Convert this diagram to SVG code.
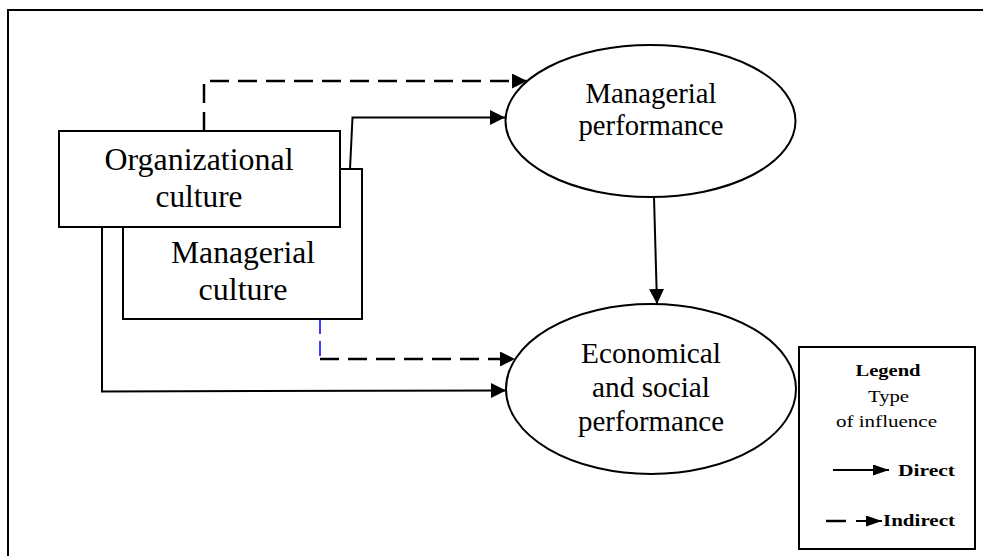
<svg xmlns="http://www.w3.org/2000/svg" width="983" height="556" viewBox="0 0 983 556">
  <style>
    .frame { fill: none; stroke: #000; stroke-width: 2; }
    .box { fill: #fff; stroke: #000; stroke-width: 2; }
    .oval { fill: #fff; stroke: #000; stroke-width: 2; }
    .lbl { font-family: "Liberation Serif", "Times New Roman", serif; fill: #000; text-anchor: middle; }
    .big { font-size: 31px; }
    .mid { font-size: 29px; }
    .small { font-size: 16px; }
    .bold { font-weight: bold; }
    .solid { fill: none; stroke: #000; stroke-width: 2; }
    .dash { fill: none; stroke: #000; stroke-width: 2.5; stroke-dasharray: 19 9; }
    .dashblue { fill: none; stroke: #0000ff; stroke-width: 1.5; stroke-dasharray: 15 7; }
  </style>
  <defs>
    <marker id="head" markerUnits="userSpaceOnUse" markerWidth="15" markerHeight="15" refX="15" refY="7.5" orient="auto">
      <path d="M0,0 L15,7.5 L0,15 z" fill="#000"/>
    </marker>
    <marker id="headSmall" markerUnits="userSpaceOnUse" markerWidth="16" markerHeight="11" refX="16" refY="5.5" orient="auto">
      <path d="M0,0 L16,5.5 L0,11 z" fill="#000"/>
    </marker>
  </defs>

  <rect width="983" height="556" fill="#fff"/>
  <!-- outer frame (runs past the right and bottom edges) -->
  <rect class="frame" x="8" y="10" width="1000" height="600"/>

  <g id="managerial-culture">
    <rect class="box" x="123" y="169" width="239" height="150"/>
    <text class="lbl big" x="243" y="263" textLength="144" lengthAdjust="spacingAndGlyphs">Managerial</text>
    <text class="lbl big" x="243" y="300" textLength="89" lengthAdjust="spacingAndGlyphs">culture</text>
  </g>

  <g id="organizational-culture">
    <rect class="box" x="59" y="131" width="281" height="96"/>
    <text class="lbl big" x="199" y="170" textLength="189" lengthAdjust="spacingAndGlyphs">Organizational</text>
    <text class="lbl big" x="199" y="207" textLength="87" lengthAdjust="spacingAndGlyphs">culture</text>
  </g>

  <g id="managerial-performance">
    <ellipse class="oval" cx="650.5" cy="121" rx="145" ry="76"/>
    <text class="lbl mid" x="651" y="103" textLength="131" lengthAdjust="spacingAndGlyphs">Managerial</text>
    <text class="lbl mid" x="651" y="135" textLength="145" lengthAdjust="spacingAndGlyphs">performance</text>
  </g>

  <g id="economical-social-performance">
    <ellipse class="oval" cx="651" cy="389" rx="145" ry="85"/>
    <text class="lbl mid" x="651" y="363" textLength="140" lengthAdjust="spacingAndGlyphs">Economical</text>
    <text class="lbl mid" x="651" y="397" textLength="118" lengthAdjust="spacingAndGlyphs">and social</text>
    <text class="lbl mid" x="651" y="431" textLength="146" lengthAdjust="spacingAndGlyphs">performance</text>
  </g>

  <g id="connectors">
    <!-- indirect: organizational culture to managerial performance -->
    <path class="dash" d="M204,131 V81 H527" marker-end="url(#head)"/>
    <!-- direct: managerial culture to managerial performance -->
    <path class="solid" d="M350,169 L352.5,117.5 H505" marker-end="url(#head)"/>
    <!-- direct: managerial performance to economical and social performance -->
    <path class="solid" d="M654,197 L657,304" marker-end="url(#head)"/>
    <!-- direct: organizational culture to economical and social performance -->
    <path class="solid" d="M102,227 V391.5 L506,390.5" marker-end="url(#head)"/>
    <!-- indirect: managerial culture to economical and social performance -->
    <path class="dashblue" d="M320,319 V359"/>
    <path class="dash" d="M320,359 H515" marker-end="url(#head)"/>
  </g>

  <g id="legend">
    <rect class="box" x="799" y="347" width="176" height="202"/>
    <text class="lbl small bold" x="888" y="376" textLength="65" lengthAdjust="spacingAndGlyphs">Legend</text>
    <text class="lbl small" x="888.5" y="402" textLength="41" lengthAdjust="spacingAndGlyphs">Type</text>
    <text class="lbl small" x="886.5" y="427" textLength="101" lengthAdjust="spacingAndGlyphs">of influence</text>
    <path class="solid" d="M833,470 H889" marker-end="url(#headSmall)"/>
    <text class="lbl small bold" x="926.5" y="476" textLength="57" lengthAdjust="spacingAndGlyphs">Direct</text>
    <path d="M826,521 H846" stroke="#000" stroke-width="2.5"/>
    <path class="solid" d="M856,521 H882" marker-end="url(#headSmall)"/>
    <text class="lbl small bold" x="919" y="526" textLength="72" lengthAdjust="spacingAndGlyphs">Indirect</text>
  </g>
</svg>
